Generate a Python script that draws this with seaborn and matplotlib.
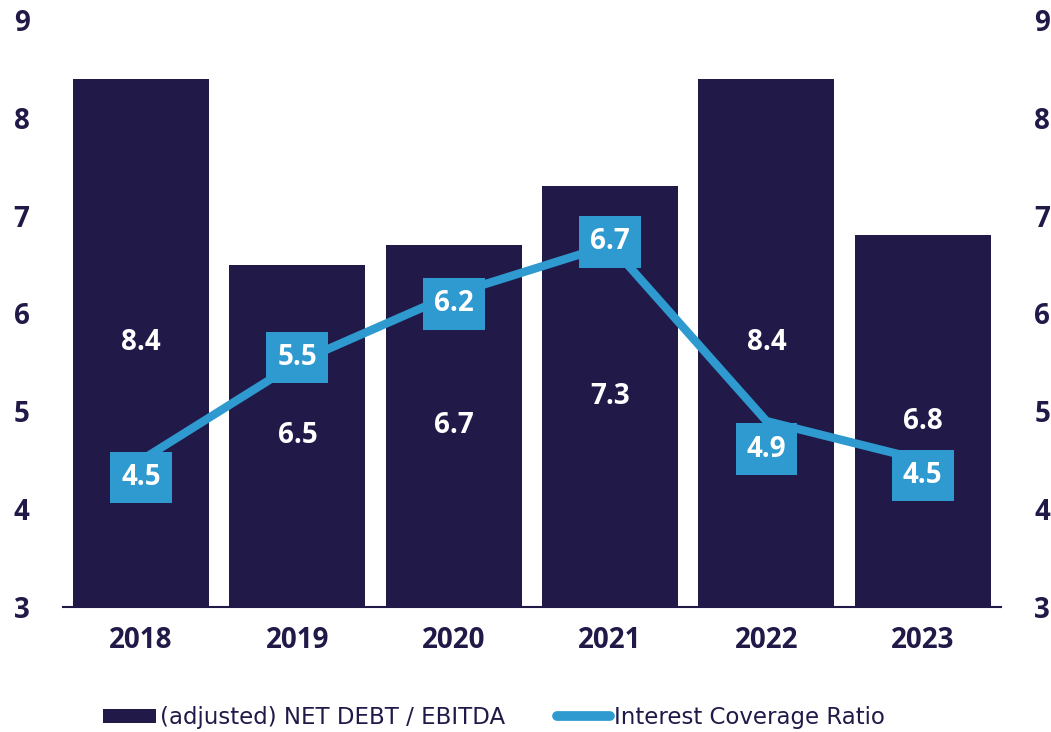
import matplotlib
matplotlib.use("Agg")
import matplotlib.pyplot as plt
import seaborn as sns
import pandas as pd
from matplotlib.lines import Line2D
from matplotlib.patches import Patch

years = ["2018", "2019", "2020", "2021", "2022", "2023"]
net_debt_ebitda = [8.4, 6.5, 6.7, 7.3, 8.4, 6.8]
interest_coverage = [4.5, 5.5, 6.2, 6.7, 4.9, 4.5]
y_ticks = [3, 4, 5, 6, 7, 8, 9]

NAVY = "#211a48"
BLUE = "#2e9ad0"

sns.set_theme(style="white")
plt.rcParams["font.family"] = ["Open Sans", "DejaVu Sans"]

df = pd.DataFrame({"year": years, "debt": net_debt_ebitda, "icr": interest_coverage})

fig = plt.figure(figsize=(10.51, 7.32), dpi=100)
ax = fig.add_axes([0.0599, 0.1708, 0.8925, 0.8019])

sns.barplot(data=df, x="year", y="debt", color=NAVY, saturation=1,
            width=0.87, ax=ax, linewidth=0)
# bars start at the axis floor (3); heights are value - 3
for p, v in zip(ax.patches, net_debt_ebitda):
    p.set_y(3)
    p.set_height(v - 3)

xs = list(range(len(years)))
sns.lineplot(x=xs, y=interest_coverage, color=BLUE, linewidth=6,
             ax=ax, legend=False, solid_capstyle="butt")

ax.set_xlim(-0.5, 5.5)
ax.set_ylim(3, 9)
ax.set_yticks(y_ticks)
ax.set_xlabel("")
ax.set_ylabel("")
for s in ["top", "right", "left"]:
    ax.spines[s].set_visible(False)
ax.spines["bottom"].set_color(NAVY)
ax.spines["bottom"].set_linewidth(1.5)
ax.tick_params(axis="both", length=0, labelsize=20, labelcolor=NAVY)
ax.tick_params(axis="x", pad=14)
ax.tick_params(axis="y", pad=24)
for lab in ax.get_xticklabels() + ax.get_yticklabels():
    lab.set_fontweight("bold")

ax2 = ax.twinx()
ax2.set_ylim(3, 9)
ax2.set_yticks(y_ticks)
for s in ax2.spines.values():
    s.set_visible(False)
ax2.tick_params(axis="y", length=0, labelsize=20, labelcolor=NAVY, pad=24)
for lab in ax2.get_yticklabels():
    lab.set_fontweight("bold")
ax2.grid(False)
ax.grid(False)

# bar value labels at the middle of each bar
for x, v in zip(xs, net_debt_ebitda):
    ax.text(x, (3 + v) / 2, f"{v:.1f}", ha="center", va="center",
            color="white", fontsize=20, fontweight="bold")

# boxed labels for the coverage line
offsets = [-17, 5, -10, 3, -28, -15]
pads = [0.4, 0.4, 0.4, 0.4, 0.4, 0.4]
for x, v, dy, pd_ in zip(xs, interest_coverage, offsets, pads):
    ax.annotate(f"{v:.1f}", (x, v), xytext=(0, dy), textcoords="offset pixels",
                ha="center", va="center", color="white", fontsize=20,
                fontweight="bold",
                bbox=dict(boxstyle=f"square,pad={pd_}", fc=BLUE, ec="none"))

handles = [Patch(facecolor=NAVY, edgecolor="none"),
           Line2D([0], [0], color=BLUE, linewidth=7, solid_capstyle="round")]
labels = ["(adjusted) NET DEBT / EBITDA", "Interest Coverage Ratio"]
fig.legend(handles, labels, loc="center", bbox_to_anchor=(0.47, 0.02),
           ncol=2, frameon=False, labelcolor=NAVY,
           handlelength=2.3, handleheight=0.55, handletextpad=0.15,
           columnspacing=2.3, prop={"family": ["DejaVu Sans"], "size": 16.5})

fig.savefig("out.png", dpi=100, facecolor="white")
